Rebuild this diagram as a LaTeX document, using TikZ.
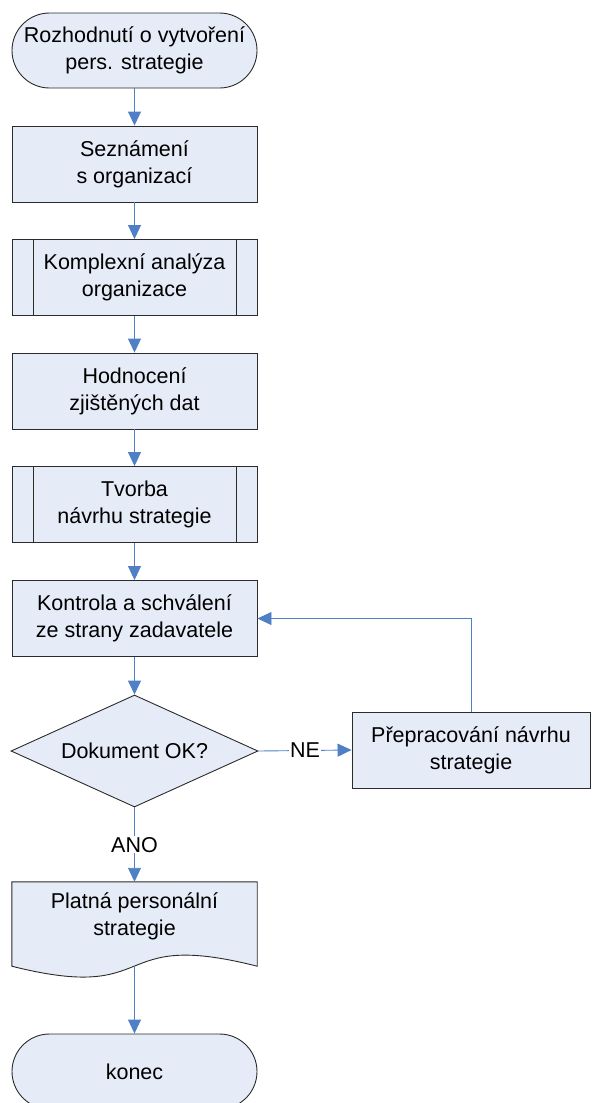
\documentclass[tikz,border=0pt]{standalone}
\usepackage{fontspec}
\setmainfont{Liberation Sans}
\usetikzlibrary{arrows.meta,shapes.geometric}
\definecolor{boxfill}{HTML}{E6ECF7}
\definecolor{linkblue}{HTML}{4F7FC4}
\definecolor{edge}{HTML}{2B2B2B}
\begin{document}
\begin{tikzpicture}[x=1pt,y=-1pt,
  font=\fontsize{21.5}{27}\selectfont,
  every node/.style={text=black},
  shapebase/.style={draw=edge,line width=0.9pt,fill=boxfill,align=center,
    minimum width=245pt,inner sep=0pt},
  procbox/.style={shapebase,rectangle,minimum height=76pt},
  termbox/.style={shapebase,rectangle,rounded corners=37.5pt,minimum height=75pt},
  decbox/.style={shapebase,diamond,minimum width=247pt,minimum height=112pt,aspect=2.2},
  link/.style={draw=linkblue,line width=0.9pt,
    -{Triangle[length=14pt,width=13pt]}},
  tag/.style={fill=white,inner sep=1pt}]
\useasboundingbox (0,0) rectangle (592,1103);

% main column
\node[termbox] (start) at (134.5,50.5) {Rozhodnutí o vytvoření\\pers. strategie};
\node[procbox] (intro) at (134.5,164) {Seznámení\\s organizací};
\node[procbox] (anal) at (134.5,277.5) {Komplexní analýza\\organizace};
\node[procbox] (eval) at (134.5,391) {Hodnocení\\zjištěných dat};
\node[procbox] (draft) at (134.5,504.5) {Tvorba\\návrhu strategie};
\node[procbox] (check) at (134.5,618.5) {Kontrola a schválení\\ze strany zadavatele};
\node[decbox] (ok) at (134.5,751) {Dokument OK?};
\node[procbox,minimum width=238pt] (redo) at (471,750) {Přepracování návrhu\\strategie};

% predefined-process side bars
\foreach \n in {anal,draft}{
  \draw[draw=edge,line width=0.9pt] ([xshift=22pt]\n.north west) -- ([xshift=22pt]\n.south west);
  \draw[draw=edge,line width=0.9pt] ([xshift=-21pt]\n.north east) -- ([xshift=-21pt]\n.south east);
}

% document shape with wavy bottom
\node[rectangle,minimum width=245pt,minimum height=84pt,inner sep=0pt] (doc) at (134.5,924) {};
\draw[draw=edge,line width=0.9pt,fill=boxfill]
  (doc.north west) -- (doc.north east) -- (doc.south east)
  .. controls (107,928) and (162,1004) .. (doc.south west) -- cycle;
\node[align=center] (doctext) at (134.5,916.5) {Platná personální\\strategie};

\node[termbox] (end) at (134.5,1071.5) {konec};

% connectors
\draw[link] (start) -- (intro);
\draw[link] (intro) -- (anal);
\draw[link] (anal) -- (eval);
\draw[link] (eval) -- (draft);
\draw[link] (draft) -- (check);
\draw[link] (check) -- (ok);
\draw[link] (ok.east) -- node[tag] {NE} (redo.west);
\draw[link] (redo.north) |- (check.east);
\draw[link] (ok.south) -- node[tag] {ANO} (doc.north);
\draw[link] (doc.south) -- (end);
\end{tikzpicture}
\end{document}
